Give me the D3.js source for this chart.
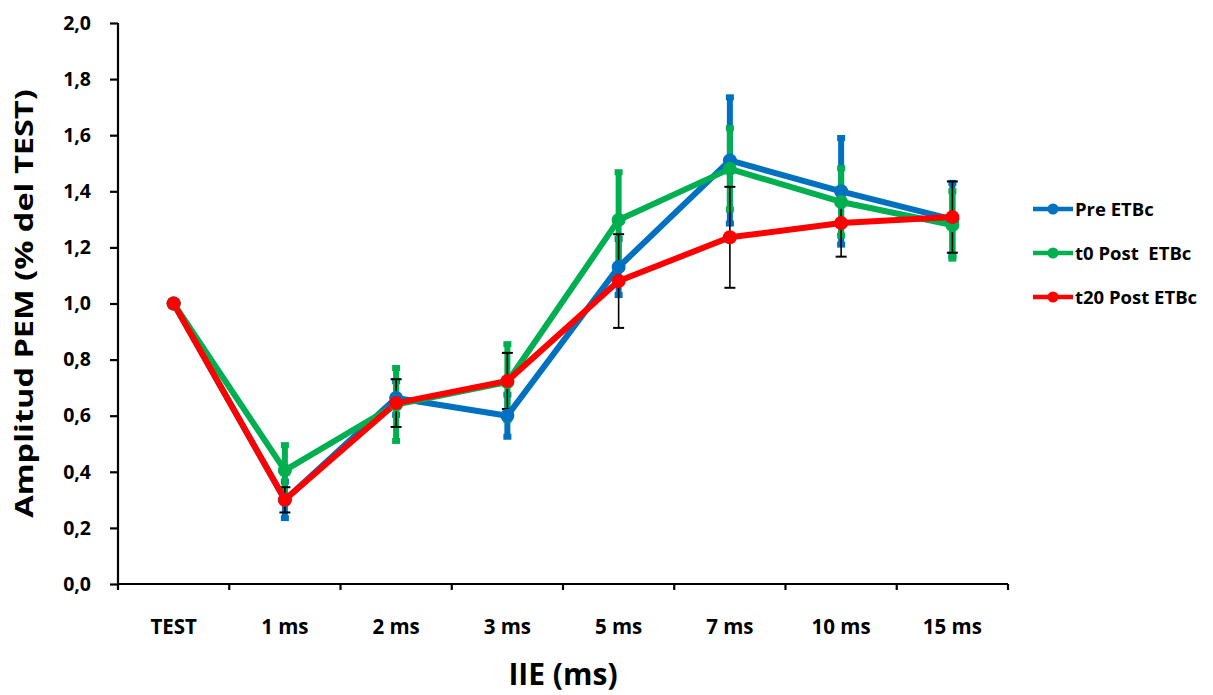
<!DOCTYPE html>
<html>
<head>
<meta charset="utf-8">
<script src="https://cdn.jsdelivr.net/npm/d3@7"></script>
<style>
  body { margin: 0; background: #fff; }
  svg text { font-family: "Open Sans", Calibri, sans-serif; font-weight: bold; fill: #000; }
</style>
</head>
<body>
<div id="chart"></div>
<script>
// categories and series
var categories = ['TEST', '1 ms', '2 ms', '3 ms', '5 ms', '7 ms', '10 ms', '15 ms'];
var preValues = [1.0, 0.30, 0.663, 0.60, 1.13, 1.51, 1.40, 1.30];
var preErrors = [0, 0.065, 0.06, 0.075, 0.10, 0.225, 0.19, 0.13];
var t0Values = [1.0, 0.405, 0.64, 0.72, 1.298, 1.48, 1.362, 1.28];
var t0Errors = [0, 0.09, 0.13, 0.135, 0.17, 0.145, 0.12, 0.12];
var t20Values = [1.0, 0.30, 0.645, 0.724, 1.08, 1.236, 1.287, 1.308];
var t20Errors = [0, 0.045, 0.085, 0.10, 0.167, 0.18, 0.12, 0.127];
var yTicks = [0, 0.2, 0.4, 0.6, 0.8, 1.0, 1.2, 1.4, 1.6, 1.8, 2.0];
var seriesNames = ['Pre ETBc', 't0 Post  ETBc', 't20 Post ETBc'];

var width = 1213;
var height = 695;
var margin = { left: 118, right: 205, top: 23, bottom: 111 };

var series = [
  { name: seriesNames[0], values: preValues, errors: preErrors, color: '#0070C0', errColor: '#0070C0', errWidth: 6, capW: 8, capH: 6 },
  { name: seriesNames[1], values: t0Values, errors: t0Errors, color: '#00B050', errColor: '#00B050', errWidth: 6, capW: 8, capH: 6 },
  { name: seriesNames[2], values: t20Values, errors: t20Errors, color: '#FF0000', errColor: '#000', errWidth: 1.6, capW: 11, capH: 2 }
];

var svg = d3.select('#chart')
  .append('svg')
  .attr('width', width)
  .attr('height', height);

var x = d3.scaleBand()
  .domain(categories)
  .range([margin.left, width - margin.right])
  .paddingInner(0)
  .paddingOuter(0);

var y = d3.scaleLinear()
  .domain([0, 2])
  .range([height - margin.bottom, margin.top]);

function cx(i) {
  return x(categories[i]) + x.bandwidth() / 2;
}

// y axis
var yAxis = svg.append('g')
  .attr('transform', 'translate(' + margin.left + ',0)')
  .call(d3.axisLeft(y)
    .tickValues(yTicks)
    .tickSize(8)
    .tickPadding(19)
    .tickFormat(function(d) { return d.toFixed(1).replace('.', ','); }));
yAxis.select('.domain').attr('d', 'M0,' + (y(0) + 6) + 'V' + y(2)).attr('stroke-width', 2.2);
yAxis.selectAll('.tick line').attr('stroke-width', 2.2);
yAxis.selectAll('.tick text').attr('font-size', 19.5);

// x axis
var xAxis = svg.append('g')
  .attr('transform', 'translate(0,' + y(0) + ')')
  .call(d3.axisBottom(x).tickSize(0));
xAxis.select('.domain').attr('d', 'M' + margin.left + ',0H' + (width - margin.right)).attr('stroke-width', 2.2);
xAxis.selectAll('.tick text')
  .attr('font-size', 20.5)
  .attr('y', 50)
  .attr('dy', 0);
xAxis.selectAll('.sep')
  .data(categories)
  .enter()
  .append('line')
  .attr('class', 'sep')
  .attr('x1', function(d) { return x(d) + x.bandwidth(); })
  .attr('x2', function(d) { return x(d) + x.bandwidth(); })
  .attr('y1', 0)
  .attr('y2', 6)
  .attr('stroke', '#000')
  .attr('stroke-width', 2.2);

// axis titles
svg.append('text')
  .attr('transform', 'translate(33,' + y(1) + ') rotate(-90) scale(1.3,1)')
  .attr('text-anchor', 'middle')
  .attr('font-size', 25)
  .text('Amplitud PEM (% del TEST)');

svg.append('text')
  .attr('x', (margin.left + width - margin.right) / 2)
  .attr('y', 685)
  .attr('text-anchor', 'middle')
  .attr('font-size', 30)
  .text('IIE (ms)');

// error bars
series.forEach(function(s) {
  var g = svg.append('g');
  s.values.forEach(function(v, i) {
    var e = s.errors[i];
    if (!e) return;
    g.append('line')
      .attr('x1', cx(i)).attr('x2', cx(i))
      .attr('y1', y(v - e)).attr('y2', y(v + e))
      .attr('stroke', s.errColor)
      .attr('stroke-width', s.errWidth);
    [v - e, v + e].forEach(function(c) {
      g.append('rect')
        .attr('x', cx(i) - s.capW / 2)
        .attr('y', y(c) - s.capH / 2)
        .attr('width', s.capW)
        .attr('height', s.capH)
        .attr('fill', s.errColor);
    });
  });
});

// lines
var line = d3.line()
  .x(function(d, i) { return cx(i); })
  .y(function(d) { return y(d); });

series.forEach(function(s) {
  svg.append('path')
    .datum(s.values)
    .attr('d', line)
    .attr('fill', 'none')
    .attr('stroke', s.color)
    .attr('stroke-width', 6)
    .attr('stroke-linejoin', 'round');
});

// markers
series.forEach(function(s) {
  svg.selectAll(null)
    .data(s.values)
    .enter()
    .append('circle')
    .attr('cx', function(d, i) { return cx(i); })
    .attr('cy', function(d) { return y(d); })
    .attr('r', 7)
    .attr('fill', s.color);
});

// legend
var legend = svg.selectAll('.legend')
  .data(series)
  .enter()
  .append('g')
  .attr('class', 'legend')
  .attr('transform', function(d, i) {
    return 'translate(1033,' + (209 + i * 44) + ')';
  });

legend.append('line')
  .attr('x1', 0).attr('x2', 40)
  .attr('stroke', function(d) { return d.color; })
  .attr('stroke-width', 4.5);

legend.append('circle')
  .attr('cx', 20)
  .attr('r', 5.5)
  .attr('fill', function(d) { return d.color; });

legend.append('text')
  .attr('x', 42)
  .attr('y', 6.5)
  .attr('font-size', 18.5)
  .style('white-space', 'pre')
  .text(function(d) { return d.name; });
</script>
</body>
</html>
